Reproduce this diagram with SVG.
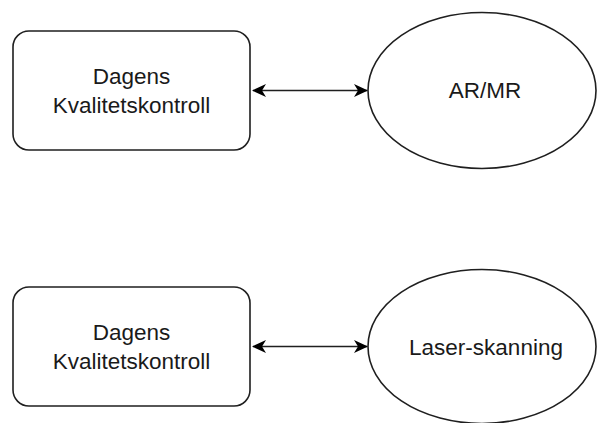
<svg xmlns="http://www.w3.org/2000/svg" width="597" height="423" viewBox="0 0 597 423">
  <style>
    .box { fill: #ffffff; stroke: #1f1f1f; stroke-width: 1.6; }
    .label { font-family: "Liberation Sans", Arial, sans-serif; font-size: 22.5px; fill: #1a1a1a; text-anchor: middle; }
    .link { fill: none; stroke: #1f1f1f; stroke-width: 1.6; }
  </style>
  <defs>
    <marker id="head" viewBox="0 0 14 14" refX="13" refY="7" markerWidth="14" markerHeight="14" markerUnits="userSpaceOnUse" orient="auto-start-reverse">
      <path d="M0,0.5 L14,7 L0,13.5 L4,7 Z" fill="#000"/>
    </marker>
  </defs>
  <rect width="597" height="423" fill="#ffffff"/>

  <g id="kvalitet-top">
    <rect class="box" x="13" y="31" width="237" height="119" rx="16" ry="16"/>
    <text class="label" x="131.5" y="84">Dagens</text>
    <text class="label" x="131.5" y="113">Kvalitetskontroll</text>
  </g>

  <g id="ar-mr">
    <ellipse class="box" cx="482" cy="90.5" rx="114" ry="78"/>
    <text class="label" x="485" y="98">AR/MR</text>
  </g>

  <g id="kvalitet-bottom">
    <rect class="box" x="13" y="287" width="237" height="119" rx="16" ry="16"/>
    <text class="label" x="131.5" y="340">Dagens</text>
    <text class="label" x="131.5" y="369">Kvalitetskontroll</text>
  </g>

  <g id="laser">
    <ellipse class="box" cx="482" cy="346.5" rx="114" ry="77"/>
    <text class="label" x="486" y="355">Laser-skanning</text>
  </g>

  <g id="connectors">
    <path class="link" d="M253,90.5 L367,90.5" marker-start="url(#head)" marker-end="url(#head)"/>
    <path class="link" d="M253,346.5 L367,346.5" marker-start="url(#head)" marker-end="url(#head)"/>
  </g>
</svg>
